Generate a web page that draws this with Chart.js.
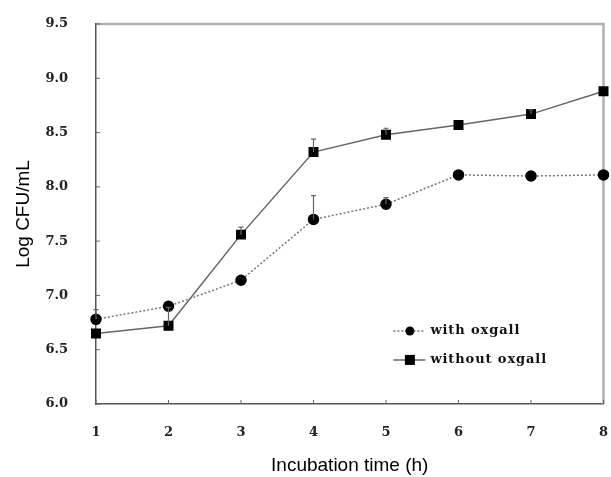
<!DOCTYPE html>
<html>
<head>
<meta charset="utf-8">
<script src="https://cdn.jsdelivr.net/npm/chart.js@4/dist/chart.umd.min.js"></script>
<style>
  html, body { margin: 0; padding: 0; background: #fff; }
  canvas { display: block; }
</style>
</head>
<body>
<canvas id="growthChart" width="611" height="477"></canvas>
<script>
// Data
const hours = [1, 2, 3, 4, 5, 6, 7, 8];
const withOxgall = [6.78, 6.90, 7.14, 7.70, 7.84, 8.11, 8.10, 8.11];
const withoutOxgall = [6.65, 6.72, 7.56, 8.32, 8.48, 8.57, 8.67, 8.88];
const withOxgallErr = [0.09, 0, 0, 0.22, 0.06, 0, 0, 0];
const withoutOxgallErr = [0, 0.17, 0.07, 0.12, 0.06, 0, 0.04, 0];
const yTicks = [6.0, 6.5, 7.0, 7.5, 8.0, 8.5, 9.0, 9.5];

const tickFont = { family: 'DejaVu Serif', size: 13, weight: 'bold' };
const titleFont = { family: 'Liberation Sans', size: 19 };

const toPoints = (vals) => vals.map((v, i) => ({ x: hours[i], y: v }));

// Error bars (upper only) + inside ticks + light frame + legend
const extrasPlugin = {
    id: 'extras',
    afterDatasetsDraw(chart) {
        const ctx = chart.ctx;
        const xs = chart.scales.x;
        const ys = chart.scales.y;
        const errs = [withOxgallErr, withoutOxgallErr];
        ctx.save();
        ctx.strokeStyle = '#666';
        ctx.lineWidth = 1.2;
        chart.data.datasets.forEach((ds, di) => {
            ds.data.forEach((p, i) => {
                const e = errs[di][i];
                if (!e) return;
                const px = xs.getPixelForValue(p.x);
                const y0 = ys.getPixelForValue(p.y);
                const y1 = ys.getPixelForValue(p.y + e);
                ctx.beginPath();
                ctx.moveTo(px, y0);
                ctx.lineTo(px, y1);
                ctx.moveTo(px - 2.5, y1);
                ctx.lineTo(px + 2.5, y1);
                ctx.stroke();
            });
        });
        ctx.restore();
    },
    beforeDatasetsDraw(chart) {
        const ctx = chart.ctx;
        const a = chart.chartArea;
        const xs = chart.scales.x;
        const ys = chart.scales.y;
        ctx.save();
        // top and right frame
        ctx.strokeStyle = '#b0b0b0';
        ctx.lineWidth = 2.5;
        ctx.beginPath();
        ctx.moveTo(a.left, a.top);
        ctx.lineTo(a.right, a.top);
        ctx.lineTo(a.right, a.bottom);
        ctx.stroke();
        // ticks pointing inward
        ctx.strokeStyle = '#666';
        ctx.lineWidth = 1;
        ys.ticks.forEach(t => {
            const py = ys.getPixelForValue(t.value);
            ctx.beginPath();
            ctx.moveTo(a.left, py);
            ctx.lineTo(a.left + 4, py);
            ctx.stroke();
        });
        xs.ticks.forEach(t => {
            const px = xs.getPixelForValue(t.value);
            ctx.beginPath();
            ctx.moveTo(px, a.bottom);
            ctx.lineTo(px, a.bottom - 4);
            ctx.stroke();
        });
        ctx.restore();
    },
    afterDraw(chart) {
        const ctx = chart.ctx;
        const a = chart.chartArea;
        const lx = a.left + (a.right - a.left) * 0.586;
        const rows = [
            { y: a.top + (a.bottom - a.top) * 0.808, ds: chart.data.datasets[0] },
            { y: a.top + (a.bottom - a.top) * 0.884, ds: chart.data.datasets[1] }
        ];
        ctx.save();
        rows.forEach(r => {
            ctx.strokeStyle = r.ds.borderColor;
            ctx.lineWidth = r.ds.borderWidth;
            ctx.setLineDash(r.ds.borderDash || []);
            ctx.beginPath();
            ctx.moveTo(lx, r.y);
            ctx.lineTo(lx + 32, r.y);
            ctx.stroke();
            ctx.setLineDash([]);
            ctx.fillStyle = '#000';
            if (r.ds.pointStyle === 'rect') {
                ctx.fillRect(lx + 11.5, r.y - 5, 10, 10);
            } else {
                ctx.beginPath();
                ctx.arc(lx + 16.5, r.y, 4.5, 0, Math.PI * 2);
                ctx.fill();
            }
            ctx.fillStyle = '#111';
            ctx.font = 'bold 13px "DejaVu Serif"';
            ctx.letterSpacing = '0.9px';
            ctx.textBaseline = 'middle';
            ctx.fillText(r.ds.label, lx + 37, r.y);
        });
        ctx.restore();
    }
};

new Chart(document.getElementById('growthChart'), {
    type: 'line',
    data: {
        datasets: [{
            label: 'with oxgall',
            data: toPoints(withOxgall),
            borderColor: '#777',
            borderWidth: 1.5,
            borderDash: [2, 2],
            pointStyle: 'circle',
            pointRadius: 5,
            pointBackgroundColor: '#000',
            pointBorderColor: '#000',
            tension: 0,
            clip: false
        }, {
            label: 'without oxgall',
            data: toPoints(withoutOxgall),
            borderColor: '#666',
            borderWidth: 1.5,
            pointStyle: 'rect',
            pointRadius: 6,
            pointBackgroundColor: '#000',
            pointBorderColor: '#000',
            tension: 0,
            clip: false
        }]
    },
    options: {
        responsive: false,
        animation: false,
        layout: { padding: { top: 24, right: 4, left: 0, bottom: 0 } },
        plugins: {
            legend: { display: false },
            tooltip: { enabled: false }
        },
        scales: {
            x: {
                type: 'linear',
                min: hours[0],
                max: hours[hours.length - 1],
                grid: { display: false, drawTicks: false },
                border: { display: true, color: '#555', width: 1.5 },
                ticks: {
                    stepSize: 1,
                    color: '#222',
                    font: tickFont,
                    padding: 21
                },
                title: {
                    display: true,
                    text: 'Incubation time (h)',
                    color: '#000',
                    font: titleFont,
                    padding: { top: 10, bottom: 0 }
                },
                afterFit: (s) => {
                    s.height = 73;
                    s.paddingLeft = 0;
                    s.paddingRight = 0;
                }
            },
            y: {
                min: yTicks[0],
                max: yTicks[yTicks.length - 1],
                grid: { display: false, drawTicks: false },
                border: { display: true, color: '#555', width: 1.5 },
                afterBuildTicks: (s) => { s.ticks = yTicks.map(v => ({ value: v })); },
                ticks: {
                    color: '#222',
                    font: tickFont,
                    padding: 28,
                    callback: (v) => Number(v).toFixed(1)
                },
                title: {
                    display: true,
                    text: 'Log CFU/mL',
                    color: '#000',
                    font: titleFont,
                    padding: { top: 12, bottom: 0 }
                },
                afterFit: (s) => {
                    s.width = 96;
                    s.paddingTop = 0;
                    s.paddingBottom = 0;
                }
            }
        }
    },
    plugins: [extrasPlugin]
});
</script>
</body>
</html>
